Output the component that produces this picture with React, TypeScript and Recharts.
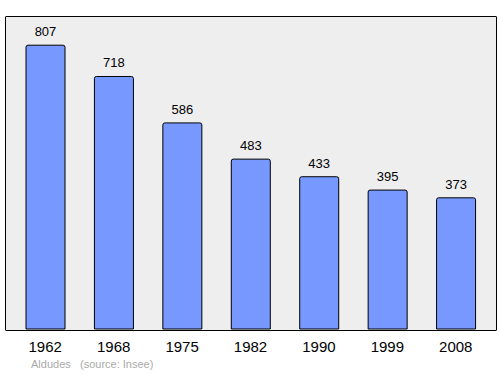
import React from "react";
import { BarChart, Bar, XAxis, YAxis, LabelList } from "recharts";

const years = ["1962", "1968", "1975", "1982", "1990", "1999", "2008"];
const population = [807, 718, 586, 483, 433, 395, 373];
const placeName = "Aldudes";
const sourceText = "(source: Insee)";

const data = years.map((y, i) => ({ year: y, pop: population[i] }));

const FONT = "'Liberation Sans', Arial, sans-serif";

export default function App() {
  return (
    <div style={{ position: "absolute", left: 0, top: 0, width: 500, height: 374, background: "#fff", fontFamily: FONT }}>
      <div
        style={{
          position: "absolute",
          left: 5,
          top: 16,
          width: 492,
          height: 315,
          background: "#eeeeee",
          border: "1.5px solid #000",
          boxSizing: "border-box",
          borderRadius: 1,
        }}
      />
      <div style={{ position: "absolute", left: 0, top: 0 }}>
        <BarChart
          width={500}
          height={374}
          data={data}
          margin={{ top: 16, right: 3, bottom: 15, left: 5 }}
          barCategoryGap={0}
        >
          <XAxis
            dataKey="year"
            axisLine={false}
            tickLine={false}
            height={30}
            padding={{ left: 6, right: 7 }}
            tick={{ fontSize: 15, fill: "#000", fontFamily: FONT }}
            dy={4}
            interval={0}
          />
          <YAxis hide domain={[0, 890]} />
          <Bar
            dataKey="pop"
            fill="#7799ff"
            stroke="#000"
            strokeWidth={1}
            barSize={39}
            radius={[2, 2, 0, 0]}
            isAnimationActive={false}
          >
            <LabelList
              dataKey="pop"
              position="top"
              offset={9}
              style={{ fontSize: 13, fill: "#000", fontFamily: FONT }}
            />
          </Bar>
        </BarChart>
      </div>
      <div style={{ position: "absolute", left: 31, top: 358, fontSize: 11, color: "#aaaaaa", whiteSpace: "pre" }}>
        {placeName}
      </div>
      <div style={{ position: "absolute", left: 80, top: 358, fontSize: 11, color: "#aaaaaa", whiteSpace: "pre" }}>
        {sourceText}
      </div>
    </div>
  );
}
